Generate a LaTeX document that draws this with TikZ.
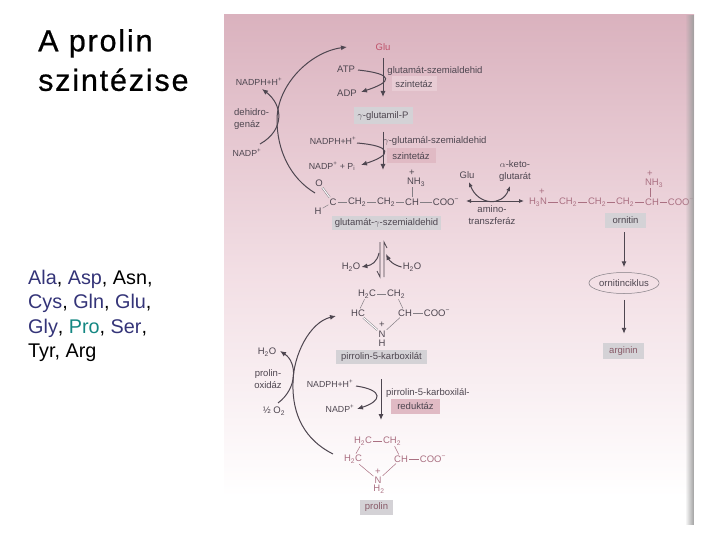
\documentclass[tikz,border=0pt]{standalone}
\usepackage{fontspec}
\setmainfont{Liberation Sans}
\newfontfamily\titlefont[LetterSpace=6,FakeBold=0.7]{Liberation Sans}
\usetikzlibrary{arrows.meta,shapes.geometric,fadings}
\definecolor{listblue}{RGB}{52,52,120}
\definecolor{listteal}{RGB}{20,135,130}
\definecolor{inktext}{RGB}{78,70,80}
\definecolor{inkrose}{RGB}{170,112,130}
\definecolor{inkred}{RGB}{190,80,105}
\definecolor{paneltop}{RGB}{218,178,190}
\definecolor{panelmid}{RGB}{242,222,228}
\definecolor{boxgray}{RGB}{212,210,214}
\definecolor{boxpink}{RGB}{224,186,196}
\newcommand{\subsc}[1]{\textsubscript{#1}}
\newcommand{\supsc}[1]{\textsuperscript{#1}}
\begin{document}
\begin{tikzpicture}[
    x=1pt, y=-1pt,
    every node/.style={inner sep=1pt, font=\fontsize{9.5}{12}\selectfont, text=inktext},
    title/.style={font=\fontsize{30.5}{39.5}\titlefont, text=black, align=left, anchor=north west},
    aminolist/.style={font=\fontsize{19.8}{24.5}\selectfont, text=black, align=left, anchor=north west},
    cofactor/.style={font=\fontsize{8.8}{10}\selectfont},
    rose/.style={text=inkrose},
    boxed/.style={fill=boxgray, inner sep=0pt},
    enzyme/.style={fill=boxpink, inner sep=0pt},
    arrow/.style={-{Latex[length=6pt,width=5pt]}, line width=1pt, draw=inktext},
    curved/.style={-{Latex[length=6pt,width=5pt]}, line width=1pt, draw=inktext},
    bond/.style={line width=0.5pt, draw=inktext!70},
    rosebond/.style={line width=0.5pt, draw=inkrose}
]
\useasboundingbox (0,0) rectangle (720,540);

% --- Panel ---
\shade[top color=paneltop, bottom color=panelmid] (224,15) rectangle (694,270);
\shade[top color=panelmid, bottom color=white] (224,270) rectangle (694,497);

% --- Title and list ---
\node[title] (title) at (37,28) {A prolin\\szintézise};
\node[aminolist] (list) at (27,268.5) {\textcolor{listblue}{Ala}, \textcolor{listblue}{Asp}, Asn,\\
\textcolor{listblue}{Cys}, \textcolor{listblue}{Gln}, \textcolor{listblue}{Glu},\\
\textcolor{listblue}{Gly}, \textcolor{listteal}{Pro}, \textcolor{listblue}{Ser},\\
Tyr, Arg};

% --- Glu to glutamate semialdehyde ---
\node[text=inkred] (glu) at (383,47) {Glu};
\node (atp) at (346,69) {ATP};
\node (adp) at (347,93) {ADP};
\node (enzone) at (435,71) {glutamát-szemialdehid};
\node[enzyme, fill=boxpink!60!paneltop!70!white, minimum width=45pt, minimum height=15pt] (synone) at (414,84) {szintetáz};
\node[boxed, minimum width=59pt, minimum height=17pt] (gluP) at (383,116) {$\gamma$-glutamil-P};
\node[cofactor] (nadphb) at (333,141) {NADPH+H\supsc{+}};
\node[cofactor] (nadpb) at (332,166) {NADP\supsc{+} + P\subsc{i}};
\node (enztwo) at (435,141) {$\gamma$-glutamál-szemialdehid};
\node[enzyme, minimum width=49pt, minimum height=15pt] (syntwo) at (411,156) {szintetáz};

\draw[arrow] (383,58) -- (gluP.north |- 0,97);
\draw[arrow] (gluP.south) ++(0,7) -- (383,170);
\coordinate (atpend) at (358,70);
\coordinate (adpend) at (361,92);
\draw[curved] (atpend) .. controls (395,74) and (392,82) .. (adpend);
\coordinate (nadphend) at (357,143);
\coordinate (nadpend) at (361,165);
\draw[curved] (nadphend) .. controls (393,146) and (392,155) .. (nadpend);

% --- Glutamate semialdehyde ---
\node (ox) at (319,183) {O};
\node (hy) at (318,211) {H};
\node (ca) at (333,202) {C};
\node (cb) at (357,202) {CH\subsc{2}};
\node (cc) at (386,202) {CH\subsc{2}};
\node (cd) at (412,202) {CH};
\node (ce) at (446,202) {COO\supsc{−}};
\node (nh) at (416,182) {NH\subsc{3}};
\node (nhp) at (412,173) {+};
\node[boxed, minimum width=109pt, minimum height=14pt] (semi) at (386.5,223) {glutamát-$\gamma$-szemialdehid};
\draw[bond] (ca) -- (cb);
\draw[bond] (cb) -- (cc);
\draw[bond] (cc) -- (cd);
\draw[bond] (cd) -- (ce);
\draw[bond] (cd.north) -- (cd.north |- nh.south);
\draw[bond] (hy) -- (ca);
\draw[bond, double, double distance=1pt] (ox) -- (ca);

% --- Dehydrogenase ---
\node[cofactor] (nadpha) at (259,82) {NADPH+H\supsc{+}};
\node[align=left, anchor=west] (dehidro) at (233,119) {dehidro-\\genáz};
\node[cofactor] (nadpa) at (247,153) {NADP\supsc{+}};
\coordinate (semistart) at (315,193);
\coordinate (gluend) at (347,47);
\draw[curved] (semistart) .. controls (290,178) and (277,150) .. (277,120) .. controls (277,85) and (310,52) .. (gluend);
\coordinate (nadpastart) at (260,144);
\coordinate (nadphaend) at (262,89);
\draw[curved] (nadpastart) .. controls (285,130) and (283,105) .. (nadphaend);

% --- Transaminase ---
\node (glutop) at (467,175) {Glu};
\node[align=center] (keto) at (515,171) {$\alpha$-keto-\\glutarát};
\node[align=center] (amino) at (492,215) {amino-\\transzferáz};
\coordinate (transl) at (466,201);
\coordinate (transr) at (524,201);
\draw[{Latex[length=5pt,width=4pt]}-{Latex[length=5pt,width=4pt]}, line width=0.8pt, draw=inktext] (transl) -- (transr);
\coordinate (glupoint) at (469,182);
\coordinate (ketopoint) at (510,186);
\draw[{Latex[length=5pt,width=4pt]}-{Latex[length=5pt,width=4pt]}, line width=1pt, draw=inktext] (glupoint) .. controls (478,205) and (502,207) .. (ketopoint);

% --- Ornithine ---
\node[rose] (oa) at (538,202) {H\subsc{3}N};
\node[rose] (oap) at (542,192) {+};
\node[rose] (ob) at (568,202) {CH\subsc{2}};
\node[rose] (oc) at (597,202) {CH\subsc{2}};
\node[rose] (od) at (625,202) {CH\subsc{2}};
\node[rose] (oe) at (652,202) {CH};
\node[rose] (of) at (681,202) {COO\supsc{−}};
\node[rose] (onh) at (654,183) {NH\subsc{3}};
\node[rose] (onhp) at (650,174) {+};
\draw[rosebond] (oa) -- (ob);
\draw[rosebond] (ob) -- (oc);
\draw[rosebond] (oc) -- (od);
\draw[rosebond] (od) -- (oe);
\draw[rosebond] (oe) -- (of);
\draw[rosebond] (oe.north -| 650,0) -- (onh.south -| 650,0);
\node[boxed, minimum width=41pt, minimum height=15pt] (ornitin) at (625.5,220.5) {ornitin};
\node[draw=inktext!70, ellipse, line width=0.5pt, minimum width=70pt, minimum height=21pt, inner sep=0pt] (ciklus) at (624,283) {ornitinciklus};
\node[boxed, minimum width=41pt, minimum height=16pt, text=inkrose!80!black] (arginin) at (623.5,351) {arginin};
\draw[arrow, shorten <=4pt, shorten >=5pt] (ornitin.south -| ciklus) -- (ciklus.north);
\draw[arrow, shorten <=6pt, shorten >=9pt] (ciklus.south) -- (arginin.north -| ciklus);

% --- Water ---
\node (waterl) at (351,267) {H\subsc{2}O};
\node (waterr) at (412,267) {H\subsc{2}O};
\coordinate (bara) at (380,242);
\coordinate (barb) at (380,277);
\coordinate (barc) at (384,242);
\coordinate (bard) at (384,277);
\draw[line width=0.8pt, draw=inktext] (bara) -- (barb) -- ++(-3,-6);
\draw[line width=0.8pt, draw=inktext] (bard) -- (barc) -- ++(3,6);
\coordinate (waterlstart) at (379,253);
\coordinate (waterrend) at (386,254);
\draw[curved] (waterlstart) .. controls (377,262) and (372,265) .. (waterl.east);
\draw[curved] (waterr.west) .. controls (393,265) and (389,260) .. (waterrend);

% --- Pyrroline-5-carboxylate ---
\node (pa) at (367,294) {H\subsc{2}C};
\node (pb) at (396,294) {CH\subsc{2}};
\node (pc) at (358,313) {HC};
\node (pd) at (405,313) {CH};
\node (pe) at (437,313) {COO\supsc{−}};
\node (pplus) at (382,325) {+};
\node (pn) at (382,334) {N};
\node (ph) at (382,343) {H};
\draw[bond] (pa) -- (pb);
\draw[bond] (pa) -- (pc);
\draw[bond] (pb) -- (pd);
\draw[bond] (pd) -- (pe);
\draw[bond] (pd) -- (pn);
\draw[bond, double, double distance=1pt] (pc) -- (pn);
\node[boxed, minimum width=91pt, minimum height=14pt] (p5c) at (381.5,357) {pirrolin-5-karboxilát};

% --- Proline oxidase ---
\node (waterox) at (267,352) {H\subsc{2}O};
\node[align=center] (oxidaz) at (268,379) {prolin-\\oxidáz};
\node (oxygen) at (274,411) {½ O\subsc{2}};
\coordinate (prolstart) at (333,454);
\coordinate (p5cend) at (336,316);
\draw[curved] (prolstart) .. controls (305,440) and (292,415) .. (293,383) .. controls (293,355) and (310,322) .. (p5cend);
\coordinate (oxstart) at (278,403);
\coordinate (waterpoint) at (280,351);
\draw[curved] (oxstart) .. controls (298,388) and (297,362) .. (waterpoint);

% --- Reductase ---
\node[cofactor] (nadphc) at (330,384) {NADPH+H\supsc{+}};
\node[cofactor] (nadpc) at (340,409) {NADP\supsc{+}};
\node[anchor=west] (enzthree) at (385,393) {pirrolin-5-karboxilál-};
\node[enzyme, minimum width=49pt, minimum height=15pt] (redukt) at (415.5,406.5) {reduktáz};
\coordinate (nadphcend) at (356,386);
\coordinate (nadpcend) at (357,409);
\draw[curved] (nadphcend) .. controls (384,390) and (382,401) .. (nadpcend);
\draw[arrow] (p5c.south -| 381,0) ++(0,15) -- (381,420);

% --- Proline ---
\node[rose] (qa) at (363,441) {H\subsc{2}C};
\node[rose] (qb) at (392,441) {CH\subsc{2}};
\node[rose] (qc) at (353,459) {H\subsc{2}C};
\node[rose] (qd) at (401,459) {CH};
\node[rose] (qe) at (433,459) {COO\supsc{−}};
\node[rose] (qplus) at (378,472) {+};
\node[rose] (qn) at (378,480) {N};
\node[rose] (qh) at (379,489) {H\subsc{2}};
\draw[rosebond] (qa) -- (qb);
\draw[rosebond] (qa) -- (qc);
\draw[rosebond] (qb) -- (qd);
\draw[rosebond] (qd) -- (qe);
\draw[rosebond] (qd) -- (qn);
\draw[rosebond] (qc) -- (qn);
\node[boxed, minimum width=33pt, minimum height=15pt, text=inkrose!80!black] (prolin) at (376.5,507.5) {prolin};

% --- Page shadow on the right ---
\fill[gray!75, path fading=west] (685,15) rectangle (694,525);
\end{tikzpicture}
\end{document}
